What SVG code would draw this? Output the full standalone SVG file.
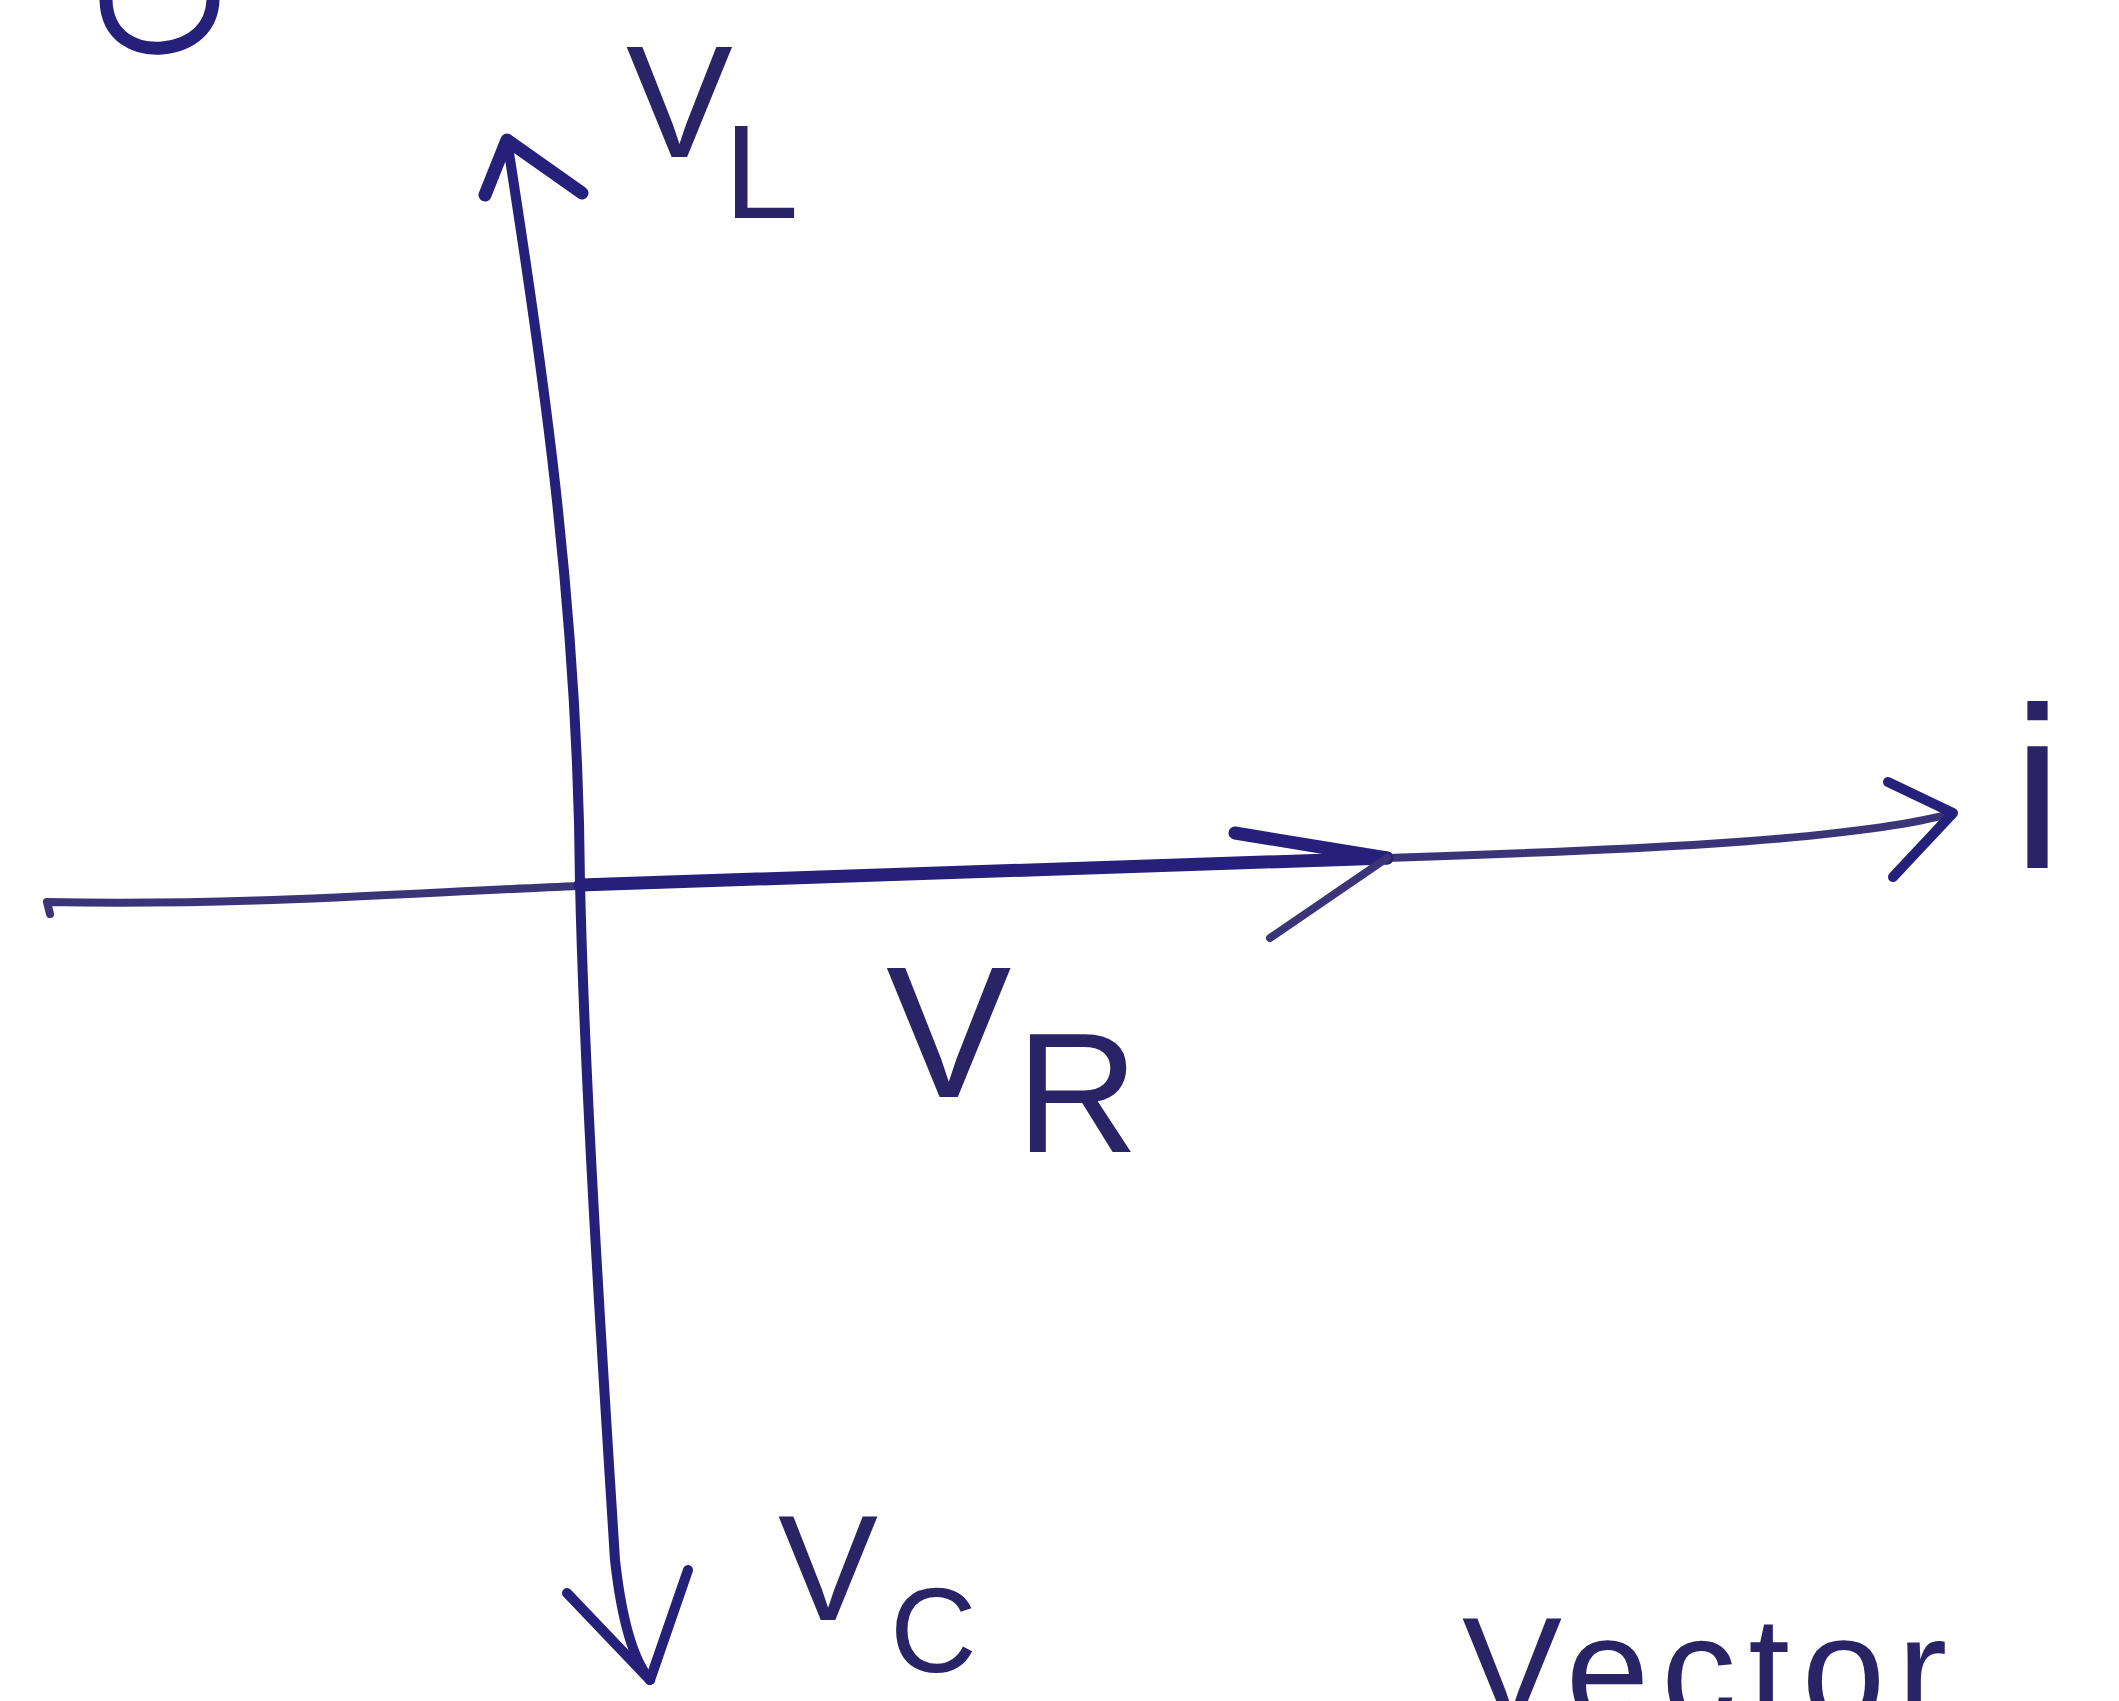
<svg xmlns="http://www.w3.org/2000/svg" width="2119" height="1701" viewBox="0 0 2119 1701">
  <style>
    .ink { fill: none; stroke: #25207a; stroke-linecap: round; stroke-linejoin: round; }
    .thick { stroke-width: 13; }
    .mid { stroke-width: 10; }
    .thin { stroke-width: 8; stroke: #3b3578; }
    .lbl { font-family: "Liberation Sans", "DejaVu Sans", sans-serif; fill: #2a2466; }
  </style>
  <rect width="2119" height="1701" fill="#ffffff"/>

  <g id="corner-mark">
    <path class="ink thick" d="M106,0 C107,38 137,50 162,48 C194,45 212,26 213,0"/>
  </g>

  <g id="connectors">
    <!-- vertical axis: V_L up, V_C down -->
    <path class="ink mid" d="M507,140 C540,350 578,600 580,883"/>
    <path class="ink mid" d="M580,883 C585,1100 605,1400 615,1560 Q625,1650 650,1680"/>
    <!-- horizontal axis -->
    <path class="ink thin" d="M50,914 L47,902 C250,906 420,892 580,886"/>
    <path class="ink thick" d="M580,885 C900,875 1200,862 1387,858"/>
    <path class="ink thin" d="M1387,858 C1600,851 1850,842 1953,813"/>
    <!-- arrowheads -->
    <path class="ink thick" d="M485,195 L507,140 L582,193"/>
    <path class="ink mid" d="M567,1593 L650,1680 L688,1570"/>
    <path class="ink thick" d="M1235,833 L1387,858"/>
    <path class="ink thin" d="M1387,858 L1270,938"/>
    <path class="ink mid" d="M1888,782 L1953,813 L1893,877"/>
  </g>

  <g id="label-VL">
    <text class="lbl" x="626" y="157" font-size="160">V<tspan x="724" y="218" font-size="134">L</tspan></text>
  </g>
  <g id="label-VR">
    <text class="lbl" x="886" y="1097" font-size="188">V<tspan x="1016" y="1152" font-size="170">R</tspan></text>
  </g>
  <g id="label-VC">
    <text class="lbl" x="778" y="1620" font-size="150">V<tspan x="890" y="1672" font-size="120">C</tspan></text>
  </g>
  <g id="label-i">
    <text class="lbl" x="2012" y="868" font-size="230">i</text>
  </g>
  <g id="label-bottom">
    <text class="lbl" x="1462" y="1722" font-size="150" letter-spacing="12">Vector</text>
  </g>
</svg>
